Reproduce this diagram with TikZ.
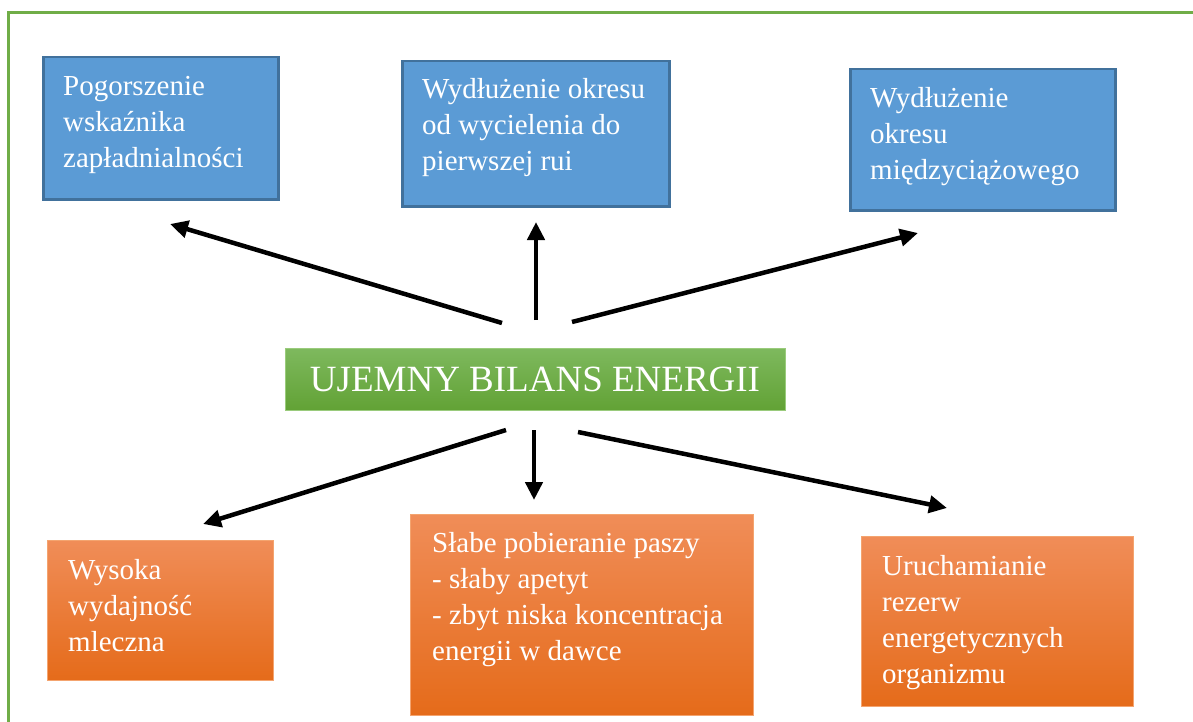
\documentclass[tikz,border=0pt]{standalone}
\usepackage{fontspec}
\setmainfont{Liberation Serif}
\usetikzlibrary{arrows.meta,calc}
\definecolor{frameg}{HTML}{70AD47}
\definecolor{bfill}{HTML}{5B9BD5}
\definecolor{bline}{HTML}{41719C}
\definecolor{gtop}{HTML}{7EB95E}
\definecolor{gbot}{HTML}{62A235}
\definecolor{gline}{HTML}{9ACB7C}
\definecolor{otop}{HTML}{F08D58}
\definecolor{obot}{HTML}{E56B1A}
\definecolor{oline}{HTML}{F4A46F}
\tikzset{
  frame/.style={draw=frameg, line width=3pt},
  bluebox/.style={draw=bline, fill=bfill, line width=2.5pt, anchor=north west, inner sep=0pt},
  greenbox/.style={draw=gline, top color=gtop, bottom color=gbot, line width=1pt, inner sep=0pt},
  orangebox/.style={draw=oline, top color=otop, bottom color=obot, line width=1pt, anchor=north west, inner sep=0pt},
  txt/.style={text=white, align=left, inner sep=0pt, anchor=north west, font=\fontsize{29}{36}\selectfont},
  arr/.style={line width=4.5pt, -{Triangle[length=18pt,width=17pt]}}
}
\begin{document}
\begin{tikzpicture}[x=1pt,y=-1pt]
\useasboundingbox (0,0) rectangle (1193,722);
\clip (0,0) rectangle (1193,722);
\fill[white] (0,0) rectangle (1193,722);
\draw[frame] (8,760) -- (8,13) -- (1220,13);

% top boxes
\node[bluebox, minimum width=235pt, minimum height=142pt] (b1) at (42,56) {};
\node[txt] (t1) at ($(b1.north west)+(21,14)$) {\strut Pogorszenie\\wskaźnika\\zapładnialności};
\node[bluebox, minimum width=267pt, minimum height=145pt] (b2) at (401,60) {};
\node[txt] (t2) at ($(b2.north west)+(21,13)$) {\strut Wydłużenie okresu\\od wycielenia do\\pierwszej rui};
\node[bluebox, minimum width=265pt, minimum height=141pt] (b3) at (849,68) {};
\node[txt] (t3) at ($(b3.north west)+(21,14)$) {\strut Wydłużenie\\okresu\\międzyciążowego};

% center
\node[greenbox, minimum width=500pt, minimum height=62pt, text=white, font=\fontsize{37}{44}\selectfont] (c) at (535,379) {UJEMNY BILANS ENERGII};

% bottom boxes
\node[orangebox, minimum width=226pt, minimum height=140pt] (o1) at (47,540) {};
\node[txt] (u1) at ($(o1.north west)+(21,14)$) {\strut Wysoka\\wydajność\\mleczna};
\node[orangebox, minimum width=343pt, minimum height=201pt] (o2) at (410,514) {};
\node[txt] (u2) at ($(o2.north west)+(22,13)$) {\strut Słabe pobieranie paszy\\- słaby apetyt\\- zbyt niska koncentracja\\energii w dawce};
\node[orangebox, minimum width=272pt, minimum height=170pt] (o3) at (861,536) {};
\node[txt] (u3) at ($(o3.north west)+(21,14)$) {\strut Uruchamianie\\rezerw\\energetycznych\\organizmu};

% arrow end points
\coordinate (a1s) at (502,323); \coordinate (a1e) at (170,224);
\coordinate (a2s) at (536,320); \coordinate (a2e) at (536,222);
\coordinate (a3s) at (572,322); \coordinate (a3e) at (918,233);
\coordinate (a4s) at (506,430); \coordinate (a4e) at (203,524);
\coordinate (a5s) at (534,430); \coordinate (a5e) at (534,500);
\coordinate (a6s) at (578,432); \coordinate (a6e) at (947,508);
\draw[arr] (a1s) -- (a1e);
\draw[arr] (a2s) -- (a2e);
\draw[arr] (a3s) -- (a3e);
\draw[arr] (a4s) -- (a4e);
\draw[arr] (a5s) -- (a5e);
\draw[arr] (a6s) -- (a6e);
\end{tikzpicture}
\end{document}
